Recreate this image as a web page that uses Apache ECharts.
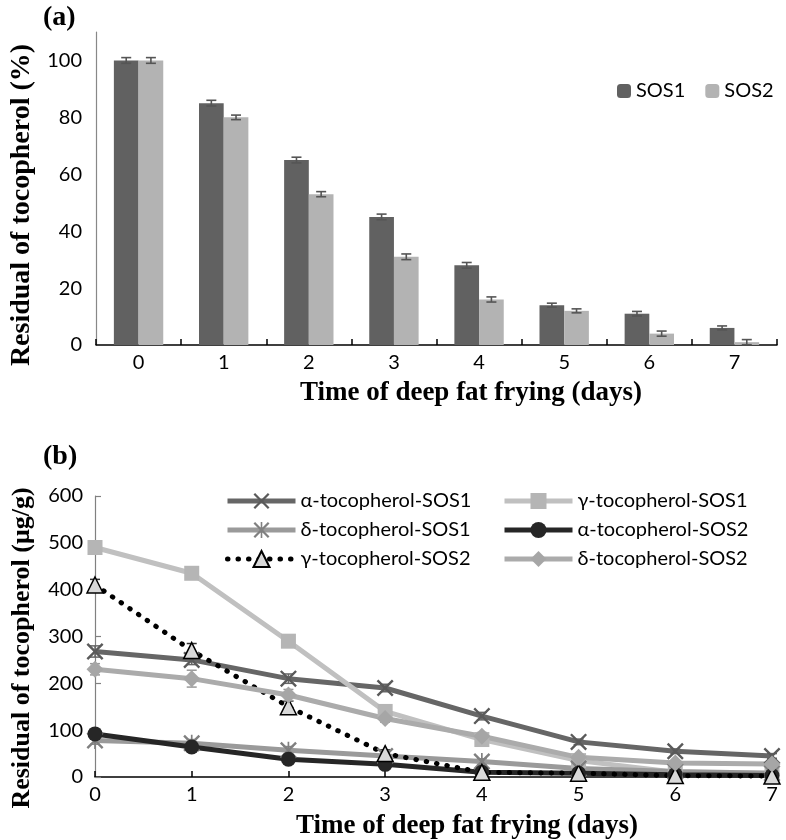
<!DOCTYPE html>
<html>
<head>
<meta charset="utf-8">
<script src="https://cdn.jsdelivr.net/npm/echarts@6/dist/echarts.min.js"></script>
<style>html,body{margin:0;padding:0;background:#fff}#c{width:786px;height:840px}</style>
</head>
<body>
<div id="c"></div>
<script>
// ---- data (a) ----
const days = ['0','1','2','3','4','5','6','7'];
const sos1 = [100, 85, 65, 45, 28, 14, 11, 6];
const sos2 = [100, 80, 53, 31, 16, 12, 4, 1];
const sos1Err = [1, 1, 1, 1, 1, 0.7, 0.8, 0.7];
const sos2Err = [1, 0.8, 0.9, 1, 0.9, 0.7, 0.9, 0.9];
const yTicksA = [0, 20, 40, 60, 80, 100];

// ---- data (b) ----
const alphaSOS1 = [268, 250, 210, 190, 130, 75, 55, 45];
const gammaSOS1 = [490, 435, 290, 140, 80, 35, 10, 8];
const deltaSOS1 = [78, 72, 57, 45, 33, 18, 12, 8];
const alphaSOS2 = [92, 64, 38, 27, 10, 8, 5, 3];
const gammaSOS2 = [410, 270, 150, 50, 10, 8, 3, 2];
const deltaSOS2 = [230, 210, 175, 125, 87, 42, 30, 28];
const alphaSOS1Err = [12, 10, 10, 8, 8, 6, 5, 5];
const gammaSOS1Err = [10, 12, 12, 10, 8, 6, 4, 3];
const deltaSOS1Err = [8, 8, 8, 6, 6, 4, 3, 3];
const alphaSOS2Err = [8, 6, 6, 5, 4, 3, 2, 2];
const gammaSOS2Err = [12, 15, 12, 8, 5, 4, 3, 2];
const deltaSOS2Err = [12, 18, 12, 8, 8, 6, 4, 4];

const FONT = 'Lato';
const SERIF = '"Liberation Serif", "DejaVu Serif", serif';
const BARW = 0.29;

const xSym = 'path://M2,0 L10,8 L18,0 L20,2 L12,10 L20,18 L18,20 L10,12 L2,20 L0,18 L8,10 L0,2 Z';
const astSym = 'path://M2,0 L10,8 L18,0 L20,2 L12,10 L20,18 L18,20 L10,12 L2,20 L0,18 L8,10 L0,2 Z M9,0 L11,0 L11,20 L9,20 Z';

function barErr(vals, errs, side, color) {
  return {
    type: 'custom', xAxisIndex: 0, yAxisIndex: 0, z: 5, silent: true,
    data: vals.map((v, i) => [i, v, errs[i]]),
    encode: { x: 0, y: 1 },
    renderItem: function (params, api) {
      const i = api.value(0), v = api.value(1), e = api.value(2);
      const band = api.size([1, 0])[0];
      const off = side * BARW / 2 * band;
      const t = api.coord([i, v + e]);
      const b = api.coord([i, v - e]);
      const x = t[0] + off;
      const st = { stroke: color, lineWidth: 1.6 };
      return { type: 'group', children: [
        { type: 'line', shape: { x1: x, y1: t[1], x2: x, y2: b[1] }, style: st },
        { type: 'line', shape: { x1: x - 5, y1: t[1], x2: x + 5, y2: t[1] }, style: st },
        { type: 'line', shape: { x1: x - 5, y1: b[1], x2: x + 5, y2: b[1] }, style: st }
      ]};
    }
  };
}

function lineErr(vals, errs, color) {
  return {
    type: 'custom', xAxisIndex: 1, yAxisIndex: 1, z: 1, silent: true,
    data: vals.map((v, i) => [i, v, errs[i]]),
    encode: { x: 0, y: 1 },
    renderItem: function (params, api) {
      const i = api.value(0), v = api.value(1), e = api.value(2);
      const t = api.coord([i, v + e]);
      const b = api.coord([i, Math.max(0, v - e)]);
      const x = t[0];
      const st = { stroke: color, lineWidth: 1.5 };
      return { type: 'group', children: [
        { type: 'line', shape: { x1: x, y1: t[1], x2: x, y2: b[1] }, style: st },
        { type: 'line', shape: { x1: x - 5, y1: t[1], x2: x + 5, y2: t[1] }, style: st },
        { type: 'line', shape: { x1: x - 5, y1: b[1], x2: x + 5, y2: b[1] }, style: st }
      ]};
    }
  };
}

function lineSeries(name, data, lineColor, symColor, symbol, size, extra) {
  const s = {
    name: name, type: 'line', xAxisIndex: 1, yAxisIndex: 1, z: 3,
    data: data, symbol: symbol, symbolSize: size, showAllSymbol: true,
    lineStyle: { color: lineColor, width: 5 },
    itemStyle: { color: symColor },
    emphasis: { disabled: true }, animation: false
  };
  return Object.assign(s, extra || {});
}

const legendB = {
  orient: 'vertical', itemWidth: 68, itemHeight: 20, itemGap: 9, top: 486,
  lineStyle: { width: 'inherit', type: 'inherit', cap: 'inherit' },
  textStyle: { fontFamily: FONT, fontSize: 20, color: '#000', lineHeight: 20 }
};

const chart = echarts.init(document.getElementById('c'), null, { renderer: 'canvas' });
const option = {
  animation: false,
  backgroundColor: '#ffffff',
  textStyle: { fontFamily: FONT },
  grid: [
    { left: 96, right: 9, top: 32, bottom: 495, containLabel: false },
    { left: 95, right: 14, top: 496, bottom: 63, containLabel: false }
  ],
  legend: [
    {
      data: ['SOS1', 'SOS2'], left: 612, top: 76, orient: 'horizontal',
      itemWidth: 14, itemHeight: 14, itemGap: 20,
      textStyle: { fontFamily: FONT, fontSize: 20, color: '#000' }
    },
    Object.assign({ data: ['α-tocopherol-SOS1', 'δ-tocopherol-SOS1', 'γ-tocopherol-SOS2'], left: 220 }, legendB),
    Object.assign({ data: ['γ-tocopherol-SOS1', 'α-tocopherol-SOS2', 'δ-tocopherol-SOS2'], left: 497 }, legendB)
  ],
  xAxis: [
    {
      type: 'category', gridIndex: 0, data: days, boundaryGap: true,
      axisLine: { lineStyle: { color: '#000', width: 1.5 } },
      axisTick: { show: true, inside: true, length: 6, lineStyle: { color: '#000', width: 1.5 } },
      axisLabel: { fontFamily: FONT, fontSize: 20, color: '#000', margin: 8 },
      splitLine: { show: false }
    },
    {
      type: 'category', gridIndex: 1, data: days, boundaryGap: false,
      axisLine: { lineStyle: { color: '#000', width: 1.5 } },
      axisTick: { show: true, inside: true, length: 6, lineStyle: { color: '#000', width: 1.5 } },
      axisLabel: { fontFamily: FONT, fontSize: 20, color: '#000', margin: 8 },
      splitLine: { show: false }
    }
  ],
  yAxis: [
    {
      type: 'value', gridIndex: 0, min: 0, max: 110, interval: 20,
      axisLine: { show: true, lineStyle: { color: '#888', width: 1.2 } },
      axisTick: { show: false },
      axisLabel: { fontFamily: FONT, fontSize: 20, color: '#000', margin: 14, showMaxLabel: false,
        formatter: function (v) { return yTicksA.indexOf(v) >= 0 ? String(v) : ''; } },
      splitLine: { show: false }
    },
    {
      type: 'value', gridIndex: 1, min: 0, max: 600, interval: 100,
      axisLine: { show: true, lineStyle: { color: '#808080', width: 1.2 } },
      axisTick: { show: true, inside: true, length: 6, lineStyle: { color: '#808080', width: 1.2 } },
      axisLabel: { fontFamily: FONT, fontSize: 20, color: '#000', margin: 12 },
      splitLine: { show: false }
    }
  ],
  series: [
    { name: 'SOS1', type: 'bar', xAxisIndex: 0, yAxisIndex: 0, data: sos1, barWidth: (BARW * 100) + '%', barGap: '0%',
      itemStyle: { color: '#616161' }, z: 2, emphasis: { disabled: true } },
    { name: 'SOS2', type: 'bar', xAxisIndex: 0, yAxisIndex: 0, data: sos2, barWidth: (BARW * 100) + '%', barGap: '0%',
      itemStyle: { color: '#b3b3b3' }, z: 2, emphasis: { disabled: true } },
    barErr(sos1, sos1Err, -1, '#555555'),
    barErr(sos2, sos2Err, 1, '#555555'),

    lineErr(alphaSOS1, alphaSOS1Err, '#666666'),
    lineErr(gammaSOS1, gammaSOS1Err, '#999999'),
    lineErr(deltaSOS1, deltaSOS1Err, '#888888'),
    lineErr(alphaSOS2, alphaSOS2Err, '#333333'),
    lineErr(gammaSOS2, gammaSOS2Err, '#333333'),
    lineErr(deltaSOS2, deltaSOS2Err, '#999999'),

    lineSeries('α-tocopherol-SOS1', alphaSOS1, '#666666', '#5a5a5a', xSym, 17),
    lineSeries('γ-tocopherol-SOS1', gammaSOS1, '#c0c0c0', '#b5b5b5', 'rect', 15),
    lineSeries('δ-tocopherol-SOS1', deltaSOS1, '#9a9a9a', '#808080', astSym, 17),
    lineSeries('α-tocopherol-SOS2', alphaSOS2, '#262626', '#262626', 'circle', 15),
    lineSeries('γ-tocopherol-SOS2', gammaSOS2, '#000000', '#d9d9d9', 'triangle', 16, {
      lineStyle: { color: '#000', width: 5, type: [0.5, 10], cap: 'round' },
      itemStyle: { color: '#d9d9d9', borderColor: '#000', borderWidth: 1.5 }
    }),
    lineSeries('δ-tocopherol-SOS2', deltaSOS2, '#ababab', '#a6a6a6', 'diamond', 17)
  ],
  graphic: [
    { type: 'text', x: 43, y: 4, style: { text: '(a)', font: 'bold 28px ' + SERIF, fill: '#000' } },
    { type: 'text', x: 43, y: 443, style: { text: '(b)', font: 'bold 28px ' + SERIF, fill: '#000' } },
    { type: 'text', x: 471, y: 393, style: { text: 'Time of deep fat frying (days)', font: 'bold 27px ' + SERIF, fill: '#000', align: 'center', verticalAlign: 'middle' } },
    { type: 'text', x: 467, y: 826, style: { text: 'Time of deep fat frying (days)', font: 'bold 27px ' + SERIF, fill: '#000', align: 'center', verticalAlign: 'middle' } },
    { type: 'text', x: 22, y: 205, rotation: Math.PI / 2, style: { text: 'Residual of tocopherol (%)', font: 'bold 28px ' + SERIF, fill: '#000', align: 'center', verticalAlign: 'middle' } },
    { type: 'text', x: 22, y: 648, rotation: Math.PI / 2, style: { text: 'Residual of tocopherol (μg/g)', font: 'bold 26px ' + SERIF, fill: '#000', align: 'center', verticalAlign: 'middle' } }
  ]
};
chart.setOption(option);
</script>
</body>
</html>
